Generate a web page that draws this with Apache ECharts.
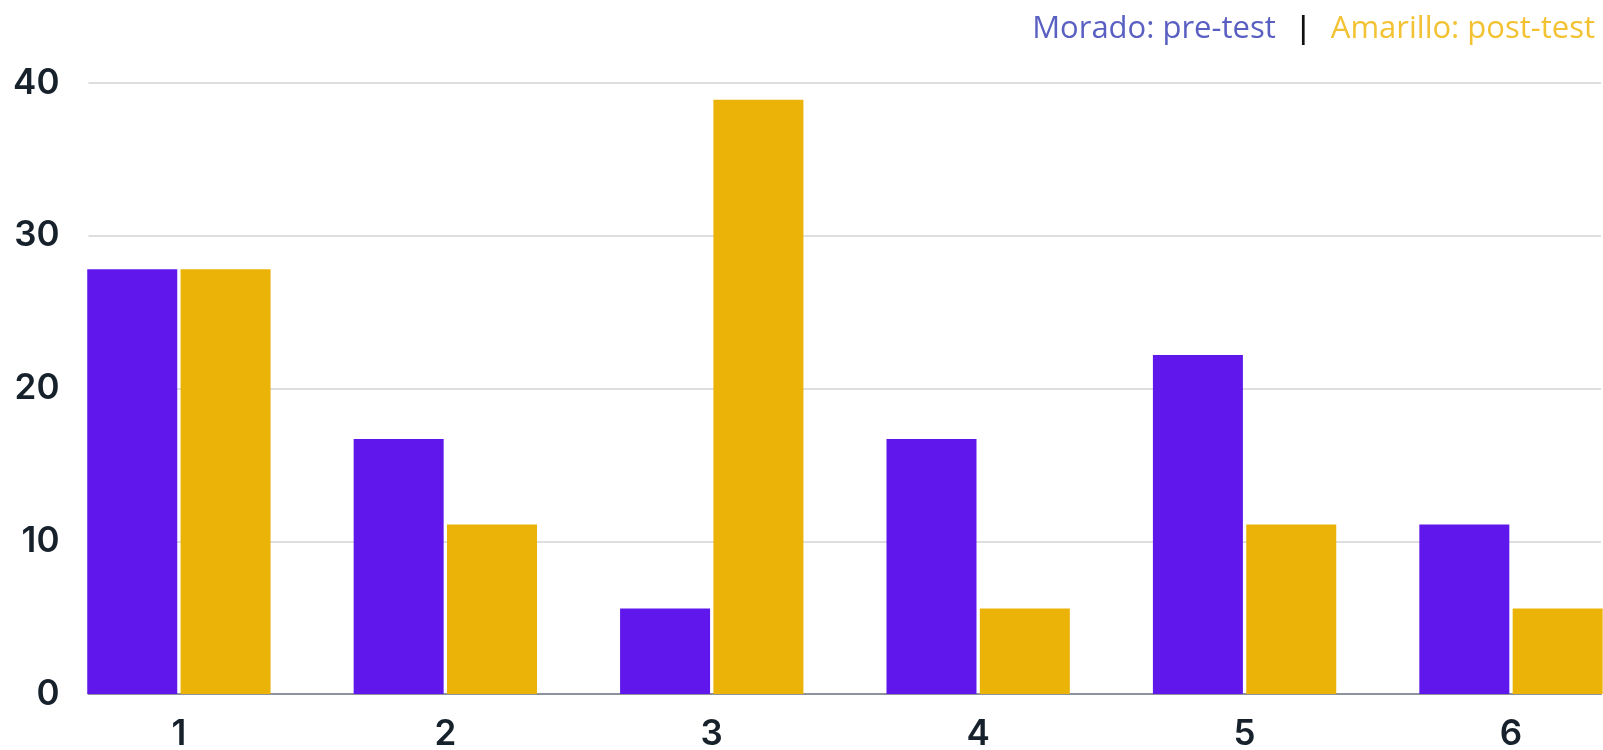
<!DOCTYPE html>
<html>
<head>
<meta charset="utf-8">
<script src="https://cdn.jsdelivr.net/npm/echarts@6/dist/echarts.min.js"></script>
<style>
  html, body { margin: 0; padding: 0; background: #ffffff; }
  #chart { width: 1603px; height: 750px; }
</style>
</head>
<body>
<div id="chart"></div>
<script>
const categories = ['1', '2', '3', '4', '5', '6'];
const preTest = [27.8, 16.7, 5.6, 16.7, 22.2, 11.1];
const postTest = [27.8, 11.1, 38.9, 5.6, 11.1, 5.6];
const yMin = 0;
const yMax = 40;
const yInterval = 10;
const legendPre = 'Morado: pre-test';
const legendPost = 'Amarillo: post-test';

const PURPLE = '#5f17eb';
const YELLOW = '#ebb307';
const labelFont = { fontFamily: 'Inter', fontWeight: 600, fontSize: 35, color: '#17212c' };

const chart = echarts.init(document.getElementById('chart'), null, { renderer: 'canvas' });
chart.setOption({
  animation: false,
  backgroundColor: '#ffffff',
  title: {
    right: 3,
    top: 9,
    text: '{a|' + legendPre + '}{s||}{b|' + legendPost + '}',
    textStyle: {
      rich: {
        a: { fontFamily: 'Open Sans', fontWeight: 400, fontSize: 31, color: '#5a60c2' },
        s: { fontFamily: 'Open Sans', fontWeight: 600, fontSize: 31, color: '#111111', padding: [0, 19, 0, 19] },
        b: { fontFamily: 'Open Sans', fontWeight: 400, fontSize: 31, color: '#f3c232' }
      }
    }
  },
  grid: [
    { left: 88.5, right: 2, top: 83, bottom: 56, outerBoundsMode: 'none' },
    { left: 45.7, right: -41.2, top: 83, bottom: 56, outerBoundsMode: 'none' }
  ],
  xAxis: [
    {
      gridIndex: 0, type: 'value', min: 0, max: 1,
      axisLine: { show: true, onZero: false, lineStyle: { color: '#8c939c', width: 2 } },
      axisTick: { show: false }, axisLabel: { show: false }, splitLine: { show: false }
    },
    {
      gridIndex: 1, type: 'category', data: categories, boundaryGap: true,
      axisLine: { show: false }, axisTick: { show: false },
      axisLabel: Object.assign({ margin: 23 }, labelFont)
    }
  ],
  yAxis: [
    {
      gridIndex: 0, type: 'value', min: yMin, max: yMax, interval: yInterval,
      axisLine: { show: false }, axisTick: { show: false },
      axisLabel: Object.assign({ margin: 29 }, labelFont),
      splitLine: { show: true, lineStyle: { color: '#d3d3d6', width: 1.5 } }
    },
    {
      gridIndex: 1, type: 'value', min: yMin, max: yMax, interval: yInterval,
      show: false, splitLine: { show: false }
    }
  ],
  series: [
    {
      name: legendPre, type: 'bar', xAxisIndex: 1, yAxisIndex: 1,
      data: preTest, barWidth: 90, barGap: '3.7%',
      itemStyle: { color: PURPLE }
    },
    {
      name: legendPost, type: 'bar', xAxisIndex: 1, yAxisIndex: 1,
      data: postTest, barWidth: 90, barGap: '3.7%',
      itemStyle: { color: YELLOW }
    }
  ]
});
</script>
</body>
</html>
